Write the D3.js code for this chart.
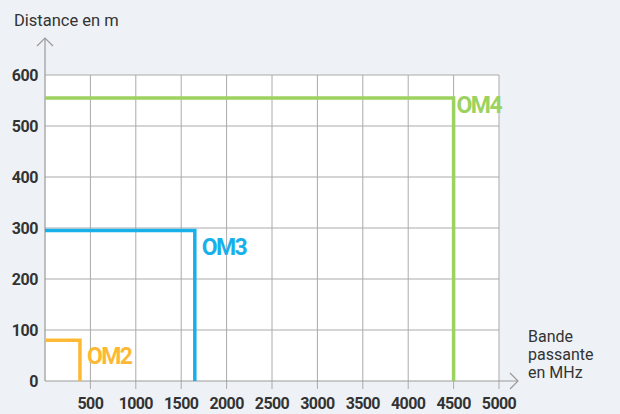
<!DOCTYPE html>
<html>
<head>
<meta charset="utf-8">
<script src="https://cdn.jsdelivr.net/npm/d3@7"></script>
<style>
  body { margin: 0; background: #eef2f6; overflow: hidden; }
  svg { display: block; }
  text { font-family: Roboto, sans-serif; }
</style>
</head>
<body>
<div id="chart"></div>
<script>
// data
const xTicks = [500, 1000, 1500, 2000, 2500, 3000, 3500, 4000, 4500, 5000];
const yTicks = [0, 100, 200, 300, 400, 500, 600];
const fibres = ["OM2", "OM3", "OM4"];
const bandwidth = [385, 1650, 4500];   // MHz
const distance = [80, 295, 555];      // m
const colors = ["#fdb934", "#18b0ea", "#9cd25f"];

const width = 620, height = 414;
const margin = { top: 75, left: 45, right: 121, bottom: 33 };
const innerWidth = width - margin.left - margin.right;
const innerHeight = height - margin.top - margin.bottom;

const svg = d3.select("#chart").append("svg")
  .attr("width", width)
  .attr("height", height);

const x = d3.scaleLinear().domain([0, 5000]).range([0, innerWidth]);
const y = d3.scaleLinear().domain([0, 600]).range([innerHeight, 0]);

const g = svg.append("g").attr("transform", `translate(${margin.left},${margin.top})`);

// plot background
g.append("rect")
  .attr("width", innerWidth)
  .attr("height", innerHeight)
  .attr("fill", "#fff");

// grid
g.append("g")
  .selectAll("line")
  .data(xTicks)
  .join("line")
  .attr("x1", d => x(d)).attr("x2", d => x(d))
  .attr("y1", 0).attr("y2", innerHeight + 8)
  .attr("stroke", "#aaa");

g.append("g")
  .selectAll("line")
  .data(yTicks.filter(d => d > 0))
  .join("line")
  .attr("x1", 0).attr("x2", innerWidth)
  .attr("y1", d => y(d)).attr("y2", d => y(d))
  .attr("stroke", "#aaa");

// axes with arrows
const axisColor = "#999";
g.append("line")
  .attr("x1", 0).attr("x2", 0)
  .attr("y1", innerHeight).attr("y2", -37)
  .attr("stroke", axisColor).attr("stroke-width", 1.2);
g.append("path")
  .attr("d", "M-8,-29L0,-37L8,-29")
  .attr("fill", "none").attr("stroke", axisColor).attr("stroke-width", 1.2);

g.append("line")
  .attr("x1", 0).attr("x2", innerWidth + 19)
  .attr("y1", innerHeight).attr("y2", innerHeight)
  .attr("stroke", axisColor).attr("stroke-width", 1.2);
g.append("path")
  .attr("d", `M${innerWidth + 11},${innerHeight - 8}L${innerWidth + 19},${innerHeight}L${innerWidth + 11},${innerHeight + 8}`)
  .attr("fill", "none").attr("stroke", axisColor).attr("stroke-width", 1.2);

// tick labels
g.append("g")
  .selectAll("text")
  .data(yTicks)
  .join("text")
  .attr("x", -7)
  .attr("y", d => y(d))
  .attr("dy", "0.36em")
  .attr("text-anchor", "end")
  .attr("font-size", 16)
  .attr("font-weight", "bold")
  .attr("letter-spacing", -0.4)
  .attr("fill", "#333")
  .text(d => d);

g.append("g")
  .selectAll("text")
  .data(xTicks)
  .join("text")
  .attr("x", d => x(d))
  .attr("y", innerHeight + 28)
  .attr("text-anchor", "middle")
  .attr("font-size", 16)
  .attr("font-weight", "bold")
  .attr("letter-spacing", -0.6)
  .attr("fill", "#333")
  .text(d => d);

// fibre step lines
const data = fibres.map((f, i) => ({ name: f, bw: bandwidth[i], dist: distance[i], color: colors[i] }));

g.append("g")
  .selectAll("path")
  .data(data)
  .join("path")
  .attr("d", d => `M${x(0)},${y(d.dist)}H${x(d.bw)}V${y(0)}`)
  .attr("fill", "none")
  .attr("stroke", d => d.color)
  .attr("stroke-width", 3.5);

// last label is squeezed against the right edge of the plot
g.append("g")
  .selectAll("text")
  .data(data)
  .join("text")
  .attr("x", (d, i) => x(d.bw) + (i === data.length - 1 ? 3 : 7))
  .attr("y", (d, i) => y(d.dist) + (i === data.length - 1 ? 15 : 24))
  .attr("font-size", 23)
  .attr("font-weight", "bold")
  .attr("letter-spacing", -1.6)
  .attr("fill", d => d.color)
  .text(d => d.name);

// axis titles
svg.append("text")
  .attr("x", 14).attr("y", 26)
  .attr("font-size", 16.5)
  .attr("fill", "#333")
  .text("Distance en m");

svg.append("text")
  .attr("x", 528).attr("y", 342)
  .attr("font-size", 16)
  .attr("fill", "#333")
  .selectAll("tspan")
  .data(["Bande", "passante", "en MHz"])
  .join("tspan")
  .attr("x", 528)
  .attr("dy", (d, i) => i ? 18 : 0)
  .text(d => d);
</script>
</body>
</html>
